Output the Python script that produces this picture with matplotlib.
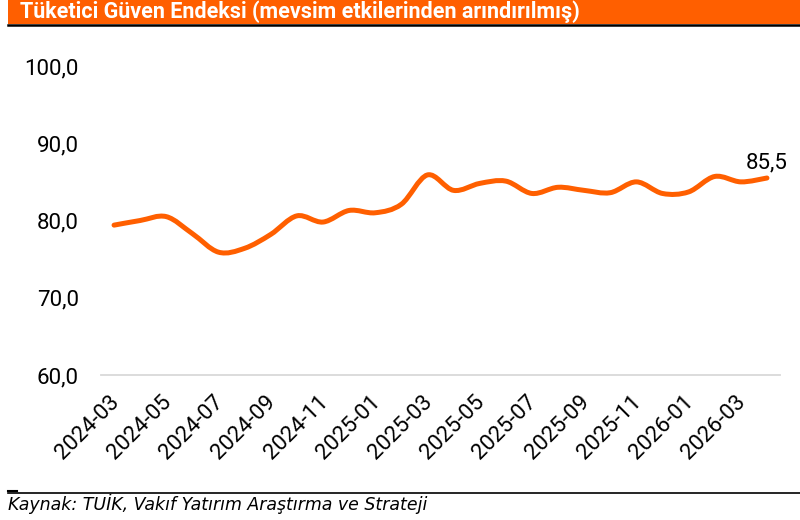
import matplotlib
matplotlib.use('Agg')
import matplotlib.pyplot as plt
import numpy as np
from matplotlib.path import Path
from matplotlib.patches import PathPatch, Rectangle
from matplotlib.lines import Line2D
import matplotlib.transforms as mtransforms

# data
months = ['2024-03', '2024-04', '2024-05', '2024-06', '2024-07', '2024-08',
          '2024-09', '2024-10', '2024-11', '2024-12', '2025-01', '2025-02',
          '2025-03', '2025-04', '2025-05', '2025-06', '2025-07', '2025-08',
          '2025-09', '2025-10', '2025-11', '2025-12', '2026-01', '2026-02',
          '2026-03', '2026-04']
values = [79.4, 80.0, 80.5, 78.3, 75.9, 76.4, 78.2, 80.6, 79.8, 81.3,
          81.0, 82.1, 85.9, 83.9, 84.8, 85.1, 83.5, 84.3, 83.9, 83.6,
          85.0, 83.5, 83.7, 85.7, 85.0, 85.5]
y_ticks = [60, 70, 80, 90, 100]
title = 'Tüketici Güven Endeksi (mevsim etkilerinden arındırılmış)'
source = 'Kaynak: TUİK, Vakıf Yatırım Araştırma ve Strateji'

orange = '#FF5F00'


def smooth_path(x, y):
    # excel-like smoothed line (catmull-rom as cubic bezier)
    pts = np.column_stack([x, y]).astype(float)
    n = len(pts)
    verts = [pts[0]]
    codes = [Path.MOVETO]
    for i in range(n - 1):
        p0 = pts[i - 1] if i > 0 else pts[i]
        p1 = pts[i]
        p2 = pts[i + 1]
        p3 = pts[i + 2] if i + 2 < n else pts[i + 1]
        c1 = p1 + (p2 - p0) / 6.0
        c2 = p2 - (p3 - p1) / 6.0
        verts += [c1, c2, p2]
        codes += [Path.CURVE4] * 3
    return Path(verts, codes)


fig = plt.figure(figsize=(8, 5.2), dpi=100)
ax = fig.add_axes([101 / 800, (520 - 375) / 520, (780 - 101) / 800, (375 - 66) / 520])

x = np.arange(len(months))
patch = PathPatch(smooth_path(x, values), fill=False, edgecolor=orange,
                  linewidth=3.6, capstyle='round', joinstyle='round')
ax.add_patch(patch)

ax.set_xlim(-0.5, len(months) - 0.5)
ax.set_ylim(60, 100)

ax.set_yticks(y_ticks)
ax.set_yticklabels([f'{v:.1f}'.replace('.', ',') for v in y_ticks],
                   fontsize=16, family='Roboto')
tick_idx = x[::2]
ax.set_xticks(tick_idx)
ax.set_xticklabels([months[i] for i in tick_idx], rotation=45, ha='right',
                   va='center', rotation_mode='anchor', fontsize=16, family='Roboto')
ax.tick_params(axis='both', length=0, colors='black')
ax.tick_params(axis='y', pad=16)
ax.tick_params(axis='x', pad=17)
offset = mtransforms.ScaledTranslation(2 / 100, 0, fig.dpi_scale_trans)
for lbl in ax.get_xticklabels():
    lbl.set_transform(lbl.get_transform() + offset)

for s in ['top', 'right', 'left']:
    ax.spines[s].set_visible(False)
ax.spines['bottom'].set_color('#D9D9D9')
ax.spines['bottom'].set_linewidth(1.3)

ax.annotate(f'{values[-1]:.1f}'.replace('.', ','), (x[-1], values[-1]),
            xytext=(0, 11), textcoords='offset points', ha='center', va='center',
            fontsize=16, family='Roboto')

# title bar
fig.patches.append(Rectangle((8 / 800, (520 - 24) / 520), 1 - 8 / 800, 24 / 520,
                             transform=fig.transFigure, facecolor=orange,
                             edgecolor='none'))
fig.lines.append(Line2D([8 / 800, 1], [(520 - 25) / 520] * 2, transform=fig.transFigure,
                        color='black', linewidth=1.8))
fig.text(20 / 800, 1 - 12 / 520, title, color='white', fontsize=15.5, fontweight='bold',
         family=['Liberation Sans Narrow', 'Roboto'], ha='left', va='center')

# source line
fig.lines.append(Line2D([8 / 800, 1], [(520 - 493) / 520] * 2, transform=fig.transFigure,
                        color='black', linewidth=1.2))
fig.lines.append(Line2D([8 / 800, 17 / 800], [(520 - 491) / 520] * 2, transform=fig.transFigure,
                        color='black', linewidth=1.5))
fig.text(8 / 800, (520 - 504) / 520, source, fontsize=12.5, style='italic',
         family='DejaVu Sans', ha='left', va='center')

fig.savefig('out.png', dpi=100)
